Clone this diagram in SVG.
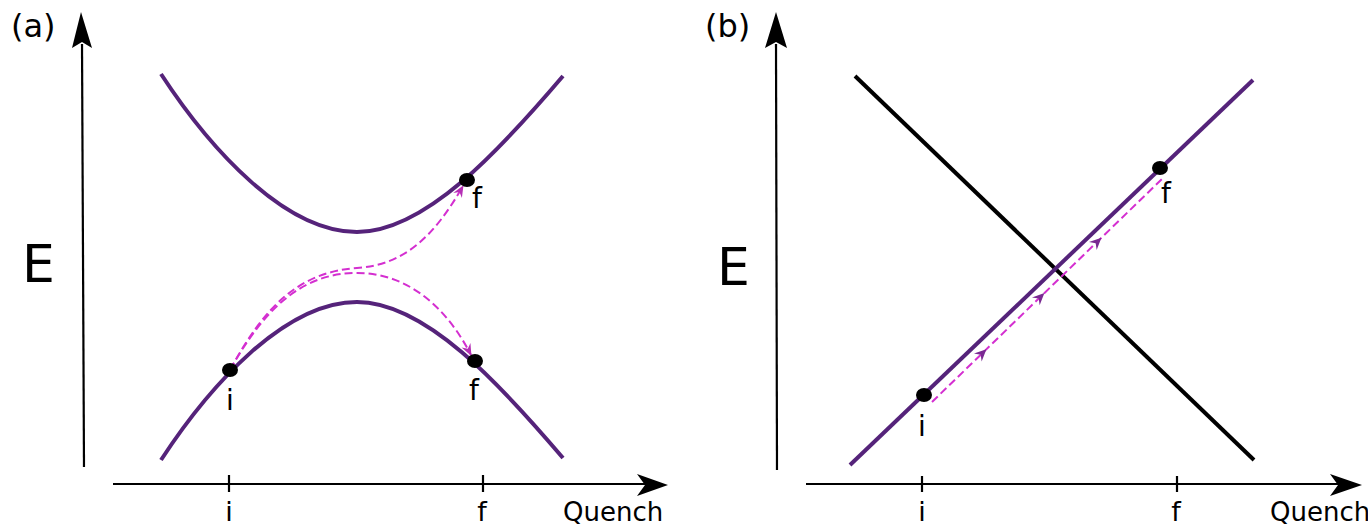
<svg xmlns="http://www.w3.org/2000/svg" width="1368" height="529" viewBox="0 0 1368 529">
<style>
.ax{stroke:#000;stroke-width:2.2;fill:none}
.ah{fill:#000;stroke:none}
.lvl{stroke:#55237a;stroke-width:4;fill:none;stroke-linecap:butt}
.blk{stroke:#000;stroke-width:4;fill:none}
.dash{stroke:#d42fd0;stroke-width:2;fill:none;stroke-dasharray:8 4}
.dot{fill:#000}
.t{font-family:"DejaVu Sans",sans-serif;fill:#000}
</style>
<defs>
<marker id="mh" viewBox="-12 -7 14 14" markerWidth="14" markerHeight="14" refX="0" refY="0" orient="auto" markerUnits="userSpaceOnUse">
<path d="M1,0 L-11,-5 L-7,0 L-11,5 Z" fill="#b52fb5"/>
</marker>
<marker id="mm" viewBox="-12 -7 14 14" markerWidth="14" markerHeight="14" refX="0" refY="0" orient="auto" markerUnits="userSpaceOnUse">
<path d="M2,0 L-10,-5.5 L-6,0 L-10,5.5 Z" fill="#7a2a92"/>
</marker>
</defs>

<g id="panel-a-axes">
<line class="ax" x1="84" y1="467" x2="82" y2="44"/>
<path class="ah" d="M81,12 L92,48 L82,42 L72,48 Z"/>
<line class="ax" x1="113" y1="484" x2="645" y2="484"/>
<path class="ah" d="M668,485 L637,496 L645,485 L637,474 Z"/>
<line class="ax" x1="229" y1="475" x2="229" y2="492"/>
<line class="ax" x1="483" y1="475" x2="483" y2="492"/>
</g>

<g id="panel-a-labels">
<text class="t" x="11" y="37" font-size="32">(a)</text>
<text class="t" x="22" y="282" font-size="52">E</text>
<text class="t" x="229" y="521" font-size="27" text-anchor="middle">i</text>
<text class="t" x="482" y="521" font-size="27" text-anchor="middle">f</text>
<text class="t" x="563" y="521" font-size="26">Quench</text>
</g>

<g id="panel-a-levels">
<path id="upper-level" class="lvl" d="M161,74 C210,149 285,232 357,232 C425,232 500,150 563,76"/>
<path id="lower-level" class="lvl" d="M161,460 C210,385 285,302 357,302 C425,302 500,384 563,458"/>
</g>

<g id="panel-a-connectors">
<path class="dash" d="M230,370 C265,305 300,272 357,268 C405,265 435,235 463,186" marker-end="url(#mh)"/>
<path class="dash" d="M230,370 C270,298 310,273 357,273 C410,273 448,310 471,355" marker-end="url(#mh)"/>
</g>

<g id="panel-a-points">
<ellipse class="dot" cx="230" cy="370" rx="8" ry="7"/>
<ellipse class="dot" cx="467" cy="180" rx="8" ry="7"/>
<ellipse class="dot" cx="475" cy="361" rx="8" ry="7"/>
<text class="t" x="230" y="410" font-size="28" text-anchor="middle">i</text>
<text class="t" x="477" y="208" font-size="28" text-anchor="middle">f</text>
<text class="t" x="474" y="400" font-size="28" text-anchor="middle">f</text>
</g>

<g id="panel-b-axes">
<line class="ax" x1="777" y1="470" x2="776" y2="44"/>
<path class="ah" d="M776,12 L787,48 L776,42 L765,48 Z"/>
<line class="ax" x1="806" y1="484" x2="1340" y2="484"/>
<path class="ah" d="M1362,485 L1330,496 L1338,485 L1330,474 Z"/>
<line class="ax" x1="922" y1="476" x2="922" y2="492"/>
<line class="ax" x1="1177" y1="476" x2="1177" y2="492"/>
</g>

<g id="panel-b-labels">
<text class="t" x="705" y="37" font-size="32">(b)</text>
<text class="t" x="717" y="285" font-size="52">E</text>
<text class="t" x="922" y="521" font-size="27" text-anchor="middle">i</text>
<text class="t" x="1176" y="521" font-size="27" text-anchor="middle">f</text>
<text class="t" x="1270" y="521" font-size="26">Quench</text>
</g>

<g id="panel-b-levels">
<line id="crossing-level" class="blk" x1="855" y1="76" x2="1254" y2="460"/>
<line id="diabatic-level" class="lvl" x1="850" y1="465" x2="1253" y2="80"/>
</g>

<g id="panel-b-connectors">
<path class="dash" d="M932,402 L985,350.6 L1043,294.4 L1100,239.1 L1163,178" marker-mid="url(#mm)"/>
</g>

<g id="panel-b-points">
<ellipse class="dot" cx="924" cy="395" rx="8" ry="7"/>
<ellipse class="dot" cx="1160" cy="168" rx="8" ry="7"/>
<text class="t" x="922" y="436" font-size="28" text-anchor="middle">i</text>
<text class="t" x="1166" y="203" font-size="28" text-anchor="middle">f</text>
</g>
</svg>
